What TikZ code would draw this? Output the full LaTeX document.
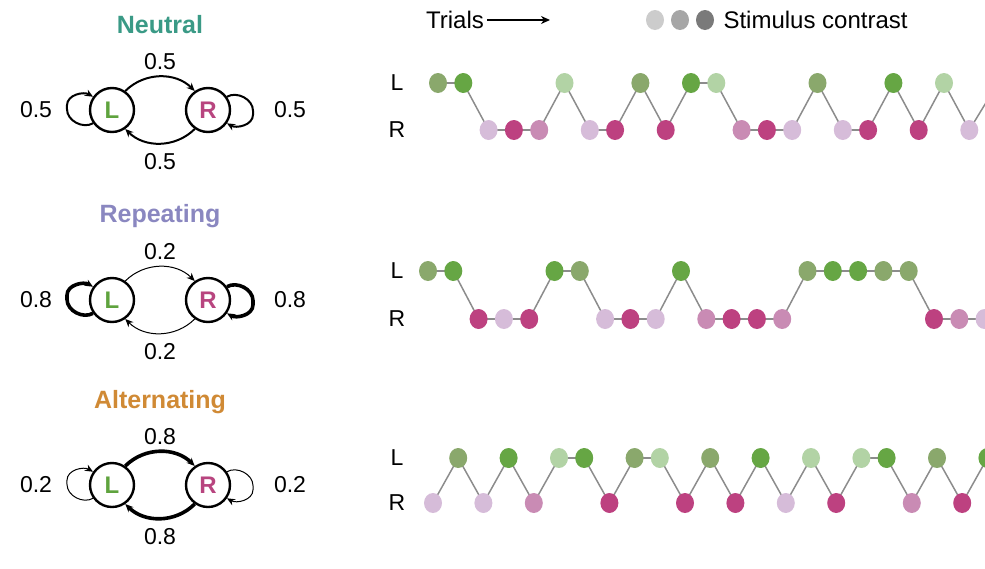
\documentclass[tikz,border=0pt]{standalone}
\usepackage{fontspec}
\setmainfont{Liberation Sans}
\usetikzlibrary{arrows.meta,shapes.geometric}
\definecolor{cO}{HTML}{8AA86C}\definecolor{cG}{HTML}{66A644}\definecolor{cL}{HTML}{B2D3A5}
\definecolor{cl}{HTML}{D6BCD9}\definecolor{cm}{HTML}{C98BB4}\definecolor{cd}{HTML}{BD4180}
\definecolor{neut}{HTML}{3A9A86}\definecolor{rep}{HTML}{8A87C0}\definecolor{alt}{HTML}{D08A35}
\definecolor{lgreen}{HTML}{5FA33E}\definecolor{rpink}{HTML}{B8457F}
\def\sideL{L}
\begin{document}
\begin{tikzpicture}[x=1pt,y=-1pt,
  dot/.style={ellipse,minimum width=18pt,minimum height=20pt,inner sep=0pt,fill=#1},
  link/.style={draw=gray!90,line width=1.5pt},
  st/.style={circle,draw,line width=2.4pt,minimum size=44pt,inner sep=0pt,font=\bfseries\fontsize{24}{24}\selectfont},
  tr/.style={-{Stealth[length=8pt,width=7pt]},line width=#1},
  lab/.style={font=\fontsize{23}{23}\selectfont},
  ttl/.style={font=\bfseries\fontsize{25}{25}\selectfont}]
\useasboundingbox (0,0) rectangle (985,568);
\clip (0,0) rectangle (985,568);
% header
\node[lab,font=\fontsize{24}{24}\selectfont] (trials) at (455,20) {Trials};
\coordinate (ta) at (550,20);
\draw[-{Stealth[length=9pt,width=8pt]},line width=2pt] (trials.east) -- (ta);
\node[dot=black!20] (g1) at (655,20) {};
\node[dot=black!35] (g2) at (680,20) {};
\node[dot=black!52] (g3) at (705,20) {};
\node[font=\fontsize{24}{24}\selectfont,anchor=west] (sc) at (720,20) {Stimulus contrast};
\newcommand{\mychain}[6]{%
  \node[lab] (#1labL) at (397,#2) {L};
  \node[lab] (#1labR) at (397,#3) {R};
  \foreach \i/\s/\c in #6{
    \pgfmathsetmacro{\xx}{#4+#5*\i}
    \ifx\s\sideL\def\yy{#2}\else\def\yy{#3}\fi
    \coordinate (#1\i) at (\xx,\yy);
  }
}
\newcommand{\mydots}[2]{\foreach \i/\s/\c in #2{\node[dot=\c] (#1d\i) at (#1\i) {};}}
% row 1
\def\rowA{0/L/cO,1/L/cG,2/R/cl,3/R/cd,4/R/cm,5/L/cL,6/R/cl,7/R/cd,8/L/cO,9/R/cd,10/L/cG,11/L/cL,12/R/cm,13/R/cd,14/R/cl,15/L/cO,16/R/cl,17/R/cd,18/L/cG,19/R/cd,20/L/cL,21/R/cl}
\mychain{a}{83}{130}{438}{25.3}{\rowA}
\coordinate (a22) at (998,83);
\foreach \i [evaluate=\i as \j using int(\i+1)] in {0,...,21}{\draw[link] (a\i) -- (a\j);}
\mydots{a}{\rowA}
% row 2
\def\rowB{0/L/cO,1/L/cG,2/R/cd,3/R/cl,4/R/cd,5/L/cG,6/L/cO,7/R/cl,8/R/cd,9/R/cl,10/L/cG,11/R/cm,12/R/cd,13/R/cd,14/R/cm,15/L/cO,16/L/cG,17/L/cG,18/L/cO,19/L/cO,20/R/cd,21/R/cm,22/R/cl}
\mychain{b}{271}{319}{428}{25.3}{\rowB}
\foreach \i [evaluate=\i as \j using int(\i+1)] in {0,...,21}{\draw[link] (b\i) -- (b\j);}
\mydots{b}{\rowB}
% row 3
\def\rowC{0/R/cl,1/L/cO,2/R/cl,3/L/cG,4/R/cm,5/L/cL,6/L/cG,7/R/cd,8/L/cO,9/L/cL,10/R/cd,11/L/cO,12/R/cd,13/L/cG,14/R/cl,15/L/cL,16/R/cd,17/L/cL,18/L/cG,19/R/cm,20/L/cO,21/R/cd,22/L/cG}
\mychain{c}{458}{503}{433}{25.2}{\rowC}
\foreach \i [evaluate=\i as \j using int(\i+1)] in {0,...,21}{\draw[link] (c\i) -- (c\j);}
\mydots{c}{\rowC}
% state diagrams
\newcommand{\states}[9]{%
  \node[ttl,text=#4] (#1t) at (160,#9) {#3};
  \node[st,text=lgreen] (#1L) at (112,#2) {L};
  \node[st,text=rpink] (#1R) at (208,#2) {R};
  \draw[tr=#7] (#1L.55) to[out=45,in=135] (#1R.125);
  \draw[tr=#7] (#1R.-125) to[out=-135,in=-45] (#1L.-55);
  \draw[tr=#8] (#1L.-145) to[out=-150,in=-90] ++(-26,-14) -- ++(0,-4) to[out=90,in=150] (#1L.145);
  \draw[tr=#8] (#1R.35) to[out=30,in=90] ++(26,14) -- ++(0,4) to[out=-90,in=-30] (#1R.-35);
  \node[lab] (#1p1) at (160,#2-48) {#5};
  \node[lab] (#1p2) at (160,#2+52) {#5};
  \node[lab] (#1p3) at (36,#2) {#6};
  \node[lab] (#1p4) at (290,#2) {#6};
}
\states{n}{110}{Neutral}{neut}{0.5}{0.5}{2pt}{2pt}{25}
\states{r}{300}{Repeating}{rep}{0.2}{0.8}{1pt}{3.6pt}{216}
\states{t}{485}{Alternating}{alt}{0.8}{0.2}{3.6pt}{1pt}{402}
\end{tikzpicture}
\end{document}
